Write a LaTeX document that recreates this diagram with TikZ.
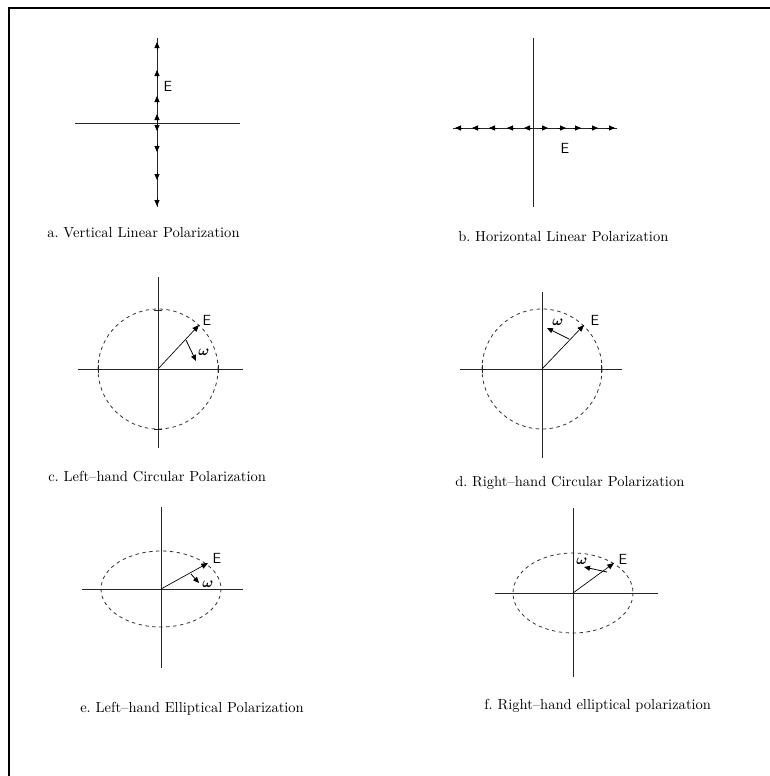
\documentclass[tikz,border=0pt]{standalone}
\usetikzlibrary{arrows.meta}
\begin{document}
\frenchspacing
\begin{tikzpicture}[x=0.75pt,y=-0.75pt,
  axis/.style={line width=0.7pt, draw=black!85},
  orbit/.style={dash pattern=on 2.6pt off 2.6pt, line width=0.6pt, draw=black!80},
  vec/.style={line width=0.5pt, -{Triangle[length=5pt,width=4pt]}},
  tip/.style={line width=0.6pt, -{Triangle[length=4.5pt,width=3.8pt]}},
  lbl/.style={font=\sffamily\fontsize{11}{12}\selectfont, inner sep=0pt},
  om/.style={font=\boldmath\fontsize{11}{12}\selectfont, inner sep=0pt},
  capt/.style={font=\fontsize{10.9}{12}\selectfont, inner sep=0pt, anchor=west},
]
\useasboundingbox (0,0) rectangle (770,776);
\draw[line width=1.1pt] (9,776) -- (9,8) -- (770,8);

% ---- a. vertical linear
\coordinate (aO) at (157,123);
\draw[axis] (157,38) -- (157,207);
\draw[axis] (75,123) -- (240,123);
\foreach \y in {42,70,96,114} \draw[tip] (157,\y+8) -- (157,\y);
\foreach \y in {131,152,180,206} \draw[tip] (157,\y-8) -- (157,\y);
\node[lbl] (aE) at (168,86) {E};
\node[capt] (acap) at (47,233) {a. Vertical Linear Polarization};

% ---- b. horizontal linear
\coordinate (bO) at (533,128);
\draw[axis] (533,38) -- (533,207);
\draw[axis] (453,128) -- (617,128);
\foreach \x in {455,472,489,507,524} \draw[tip] (\x+8,128) -- (\x,128);
\foreach \x in {548,566,581,598,615} \draw[tip] (\x-8,128) -- (\x,128);
\node[lbl] (bE) at (565,148) {E};
\node[capt] (bcap) at (458,237) {b. Horizontal Linear Polarization};

% ---- c. left-hand circular
\coordinate (cO) at (158,369);
\draw[orbit] (cO) circle[radius=60];
\draw[axis] (158,277) -- (158,448);
\draw[axis] (78,369) -- (243,369);
\draw[axis] (98,365) -- (98,373);
\draw[axis] (218,365) -- (218,373);
\draw[axis] (154,310) -- (162,310);
\draw[axis] (154,429) -- (162,429);
\draw[vec] (cO) -- (199,325) coordinate (cE);
\draw[tip] (186,340) -- (196,361);
\node[lbl] (cElbl) at (207,320) {E};
\node[om] (cw) at (204,352) {$\omega$};
\node[capt] (ccap) at (48,477) {c. Left--hand Circular Polarization};

% ---- d. right-hand circular
\coordinate (dO) at (542,369);
\draw[orbit] (dO) circle[radius=60];
\draw[axis] (542,292) -- (542,458);
\draw[axis] (460,369) -- (622,369);
\draw[axis] (482,365) -- (482,373);
\draw[axis] (601,365) -- (601,373);
\draw[vec] (dO) -- (584,325) coordinate (dE);
\draw[tip] (569,339) -- (547,328);
\node[lbl] (dElbl) at (595,320) {E};
\node[om] (dw) at (558,322) {$\omega$};
\node[capt] (dcap) at (455,483) {d. Right--hand Circular Polarization};

% ---- e. left-hand elliptical
\coordinate (eO) at (161,589);
\draw[orbit] (eO) ellipse[x radius=60, y radius=38];
\draw[axis] (161,507) -- (161,668);
\draw[axis] (82,589) -- (243,589);
\draw[vec] (eO) -- (208,563) coordinate (eE);
\draw[tip] (191,574) -- (199,583);
\node[lbl] (eElbl) at (217,558) {E};
\node[om] (ew) at (208,584) {$\omega$};
\node[capt] (ecap) at (80,709) {e. Left--hand Elliptical Polarization};

% ---- f. right-hand elliptical
\coordinate (fO) at (573,593);
\draw[orbit] (fO) ellipse[x radius=60, y radius=40];
\draw[axis] (573,508) -- (573,677);
\draw[axis] (495,593) -- (658,593);
\draw[vec] (fO) -- (614,563) coordinate (fE);
\draw[tip] (607,572) -- (584,567);
\node[lbl] (fElbl) at (623,559) {E};
\node[om] (fw) at (582,561) {$\omega$};
\node[capt] (fcap) at (484,706) {f. Right--hand elliptical polarization};
\end{tikzpicture}
\end{document}
